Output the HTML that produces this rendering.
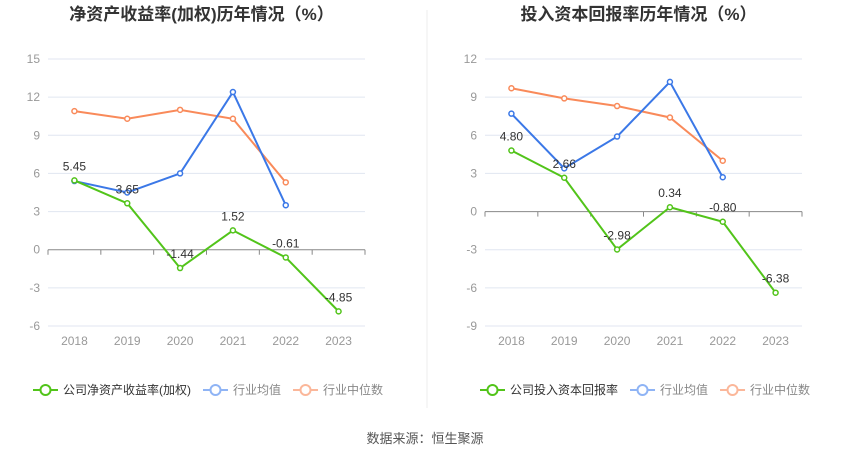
<!DOCTYPE html>
<html><head><meta charset="utf-8"><style>
body{margin:0;background:#fff;font-family:"Liberation Sans","Noto Sans CJK SC",sans-serif;}
svg text{font-family:"Liberation Sans","Noto Sans CJK SC",sans-serif;}
</style></head><body>
<svg id="s" width="850" height="458" xmlns="http://www.w3.org/2000/svg">
<line x1="427" y1="10" x2="427" y2="408" stroke="#eee"/>
<text x="425" y="443" text-anchor="middle" font-size="13" fill="#555">数据来源：恒生聚源</text>
</svg>
<script>
const years=['2018','2019','2020','2021','2022','2023'];
const roeCompany=[5.45,3.65,-1.44,1.52,-0.61,-4.85];
const roeAvg=[5.4,4.5,6.0,12.4,3.5];
const roeMedian=[10.9,10.3,11.0,10.3,5.3];
const roeTicks=[-6,-3,0,3,6,9,12,15];
const roicCompany=[4.80,2.66,-2.98,0.34,-0.80,-6.38];
const roicAvg=[7.7,3.4,5.9,10.2,2.7];
const roicMedian=[9.7,8.9,8.3,7.4,4.0];
const roicTicks=[-9,-6,-3,0,3,6,9,12];
const NS='http://www.w3.org/2000/svg';
const svg=document.getElementById('s');
function mk(tag,at,parent){const e=document.createElementNS(NS,tag);for(const k in at)e.setAttribute(k,at[k]);(parent||svg).appendChild(e);return e;}
function chart(cfg){
  const g=mk('g',{});
  
  
  const x0=cfg.x0,x1=cfg.x1,top=59,bot=326;
  const tmin=cfg.ticks[0],tmax=cfg.ticks[cfg.ticks.length-1];
  const y=v=>bot-(v-tmin)/(tmax-tmin)*(bot-top);
  const bw=(x1-x0)/years.length;
  const x=i=>x0+bw*(i+0.5);
  const t=mk('text',{x:(x0+x1)/2-5,y:20,'text-anchor':'middle','font-size':17,'font-weight':'bold',fill:'#333'},g);
  t.textContent=cfg.title;
  
  
  cfg.ticks.forEach(v=>{
    const l=mk('line',{x1:x0,x2:x1,y1:y(v),y2:y(v),stroke:v===0?'#888':'#e0e6f1'},g);
    
    
    const tx=mk('text',{x:x0-8,y:y(v)+4,'text-anchor':'end','font-size':12,fill:'#999'},g);
    tx.textContent=v;
    
    
  });
  years.forEach((yr,i)=>{
    mk('line',{x1:x0+bw*i,x2:x0+bw*i,y1:y(0),y2:y(0)+5,stroke:'#888'},g);
    const tx=mk('text',{x:x(i),y:345,'text-anchor':'middle','font-size':12,fill:'#999'},g);
    tx.textContent=yr;
    
    
  });
  mk('line',{x1:x1,x2:x1,y1:y(0),y2:y(0)+5,stroke:'#888'},g);
  function series(vals,color,name,labels){
    const p=mk('polyline',{points:vals.map((v,i)=>x(i)+','+y(v)).join(' '),fill:'none',stroke:color,'stroke-width':2},g);
    
    
    vals.forEach((v,i)=>{
      const c=mk('circle',{cx:x(i),cy:y(v),r:2.5,fill:'#fff',stroke:color,'stroke-width':1.5},g);
      
      
      if(labels){
        const tx=mk('text',{x:x(i),y:y(v)-10,'text-anchor':'middle','font-size':12,fill:'#333'},g);
        tx.textContent=v.toFixed(2);
        
        
      }
    });
  }
  series(cfg.median,'#f98a5a','median');
  series(cfg.avg,'#3b78e7','average');
  series(cfg.company,'#52c41a','company',true);
  const lg=[[cfg.legend,'#52c41a','#333'],['行业均值','#8fb4f5','#888'],['行业中位数','#fbb79a','#888']];
  let lx=cfg.lx;
  lg.forEach(([txt,col,tc])=>{
    const e=mk('g',{},g);
    
    
    mk('line',{x1:lx,x2:lx+25,y1:390,y2:390,stroke:col,'stroke-width':2},e);
    mk('circle',{cx:lx+12.5,cy:390,r:5,fill:'#fff',stroke:col,'stroke-width':2},e);
    const tx=mk('text',{x:lx+30,y:394,'font-size':12,fill:tc},e);
    tx.textContent=txt;
    lx+=30+tx.getComputedTextLength()+12;
  });
}
chart({name:'roe-chart',title:'净资产收益率(加权)历年情况（%）',x0:48,x1:365,ticks:roeTicks,company:roeCompany,avg:roeAvg,median:roeMedian,legend:'公司净资产收益率(加权)',lx:33});
chart({name:'roic-chart',title:'投入资本回报率历年情况（%）',x0:485,x1:802,ticks:roicTicks,company:roicCompany,avg:roicAvg,median:roicMedian,legend:'公司投入资本回报率',lx:480});
</script>
</body></html>
